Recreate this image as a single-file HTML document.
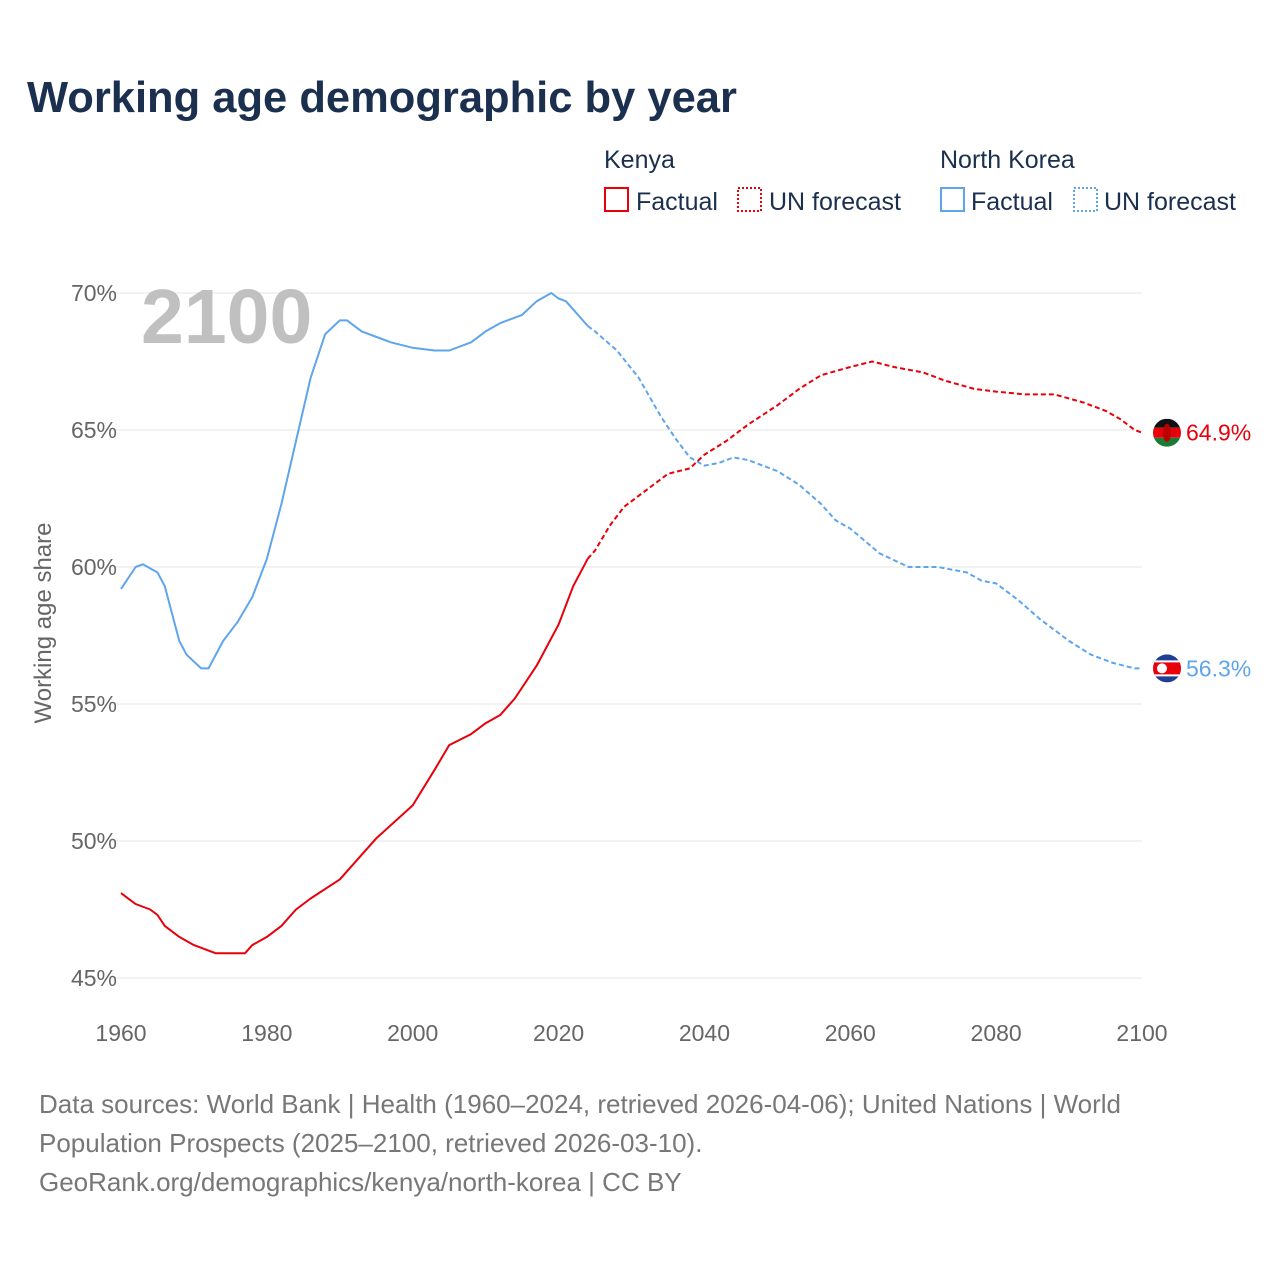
<!DOCTYPE html>
<html><head><meta charset="utf-8"><style>
html,body{margin:0;padding:0;background:#fff;}
body{width:1280px;height:1280px;overflow:hidden;font-family:"Liberation Sans",sans-serif;position:relative;}
</style></head><body>
<svg id="chart" width="1280" height="1280" xmlns="http://www.w3.org/2000/svg" style="position:absolute;left:0;top:0">
<text x="27" y="112" font-size="43.5" font-weight="bold" fill="#1b2f4e">Working age demographic by year</text>
<g font-size="25" fill="#1b2f4e">
<text x="604" y="168">Kenya</text>
<text x="940" y="168">North Korea</text>
<rect x="605" y="188" width="23" height="23" fill="none" stroke="#e8000b" stroke-width="2"/>
<text x="636" y="210">Factual</text>
<rect x="738" y="188" width="23" height="23" fill="none" stroke="#e8000b" stroke-width="2" stroke-dasharray="2,2"/>
<text x="769" y="210">UN forecast</text>
<rect x="941" y="188" width="23" height="23" fill="none" stroke="#5fa5ec" stroke-width="2"/>
<text x="971" y="210">Factual</text>
<rect x="1074" y="188" width="23" height="23" fill="none" stroke="#5fa5ec" stroke-width="2" stroke-dasharray="2,2"/>
<text x="1104" y="210">UN forecast</text>
</g>
<g id="grid"></g>
<text x="141" y="343" font-size="77" font-weight="bold" fill="#c0c0c0">2100</text>
<text transform="translate(51,623) rotate(-90)" text-anchor="middle" font-size="24" fill="#666">Working age share</text>
<g id="series"></g>
<g font-size="26" fill="#777">
<text x="39" y="1113">Data sources: World Bank | Health (1960–2024, retrieved 2026-04-06); United Nations | World</text>
<text x="39" y="1152">Population Prospects (2025–2100, retrieved 2026-03-10).</text>
<text x="39" y="1191">GeoRank.org/demographics/kenya/north-korea | CC BY</text>
</g>
</svg>
<script>
const yTicks=[45,50,55,60,65,70];
const xTicks=[1960,1980,2000,2020,2040,2060,2080,2100];
const kenyaYears=[1960,1962,1964,1965,1966,1968,1970,1973,1977,1978,1980,1982,1984,1986,1990,1995,2000,2003,2005,2008,2010,2012,2014,2017,2020,2022,2024];
const kenyaVals=[48.1,47.7,47.5,47.3,46.9,46.5,46.2,45.9,45.9,46.2,46.5,46.9,47.5,47.9,48.6,50.1,51.3,52.6,53.5,53.9,54.3,54.6,55.2,56.4,57.9,59.3,60.3];
const kenyaFcYears=[2024,2025,2027,2029,2032,2035,2038,2040,2043,2046,2050,2053,2056,2060,2063,2066,2070,2073,2077,2080,2084,2088,2092,2095,2097,2099,2100];
const kenyaFcVals=[60.3,60.6,61.5,62.2,62.8,63.4,63.6,64.1,64.6,65.2,65.9,66.5,67.0,67.3,67.5,67.3,67.1,66.8,66.5,66.4,66.3,66.3,66.0,65.7,65.4,65.0,64.9];
const nkYears=[1960,1962,1963,1965,1966,1968,1969,1971,1972,1974,1976,1978,1980,1982,1984,1986,1988,1990,1991,1993,1997,2000,2003,2005,2008,2010,2012,2015,2017,2019,2020,2021,2022,2024];
const nkVals=[59.2,60.0,60.1,59.8,59.3,57.3,56.8,56.3,56.3,57.3,58.0,58.9,60.3,62.3,64.6,66.9,68.5,69.0,69.0,68.6,68.2,68.0,67.9,67.9,68.2,68.6,68.9,69.2,69.7,70.0,69.8,69.7,69.4,68.8];
const nkFcYears=[2024,2025,2028,2031,2034,2036,2038,2040,2042,2044,2046,2050,2053,2056,2058,2060,2064,2068,2072,2076,2078,2080,2083,2086,2090,2093,2096,2099,2100];
const nkFcVals=[68.8,68.6,67.9,66.9,65.5,64.7,64.0,63.7,63.8,64.0,63.9,63.5,63.0,62.3,61.7,61.4,60.5,60.0,60.0,59.8,59.5,59.4,58.8,58.1,57.3,56.8,56.5,56.3,56.3];
const NS="http://www.w3.org/2000/svg";
const X=y=>121+(y-1960)*(1142-121)/140;
const Y=v=>293+(70-v)*(978-293)/25;
function mk(tag,attrs,parent){const e=document.createElementNS(NS,tag);for(const k in attrs)e.setAttribute(k,attrs[k]);parent.appendChild(e);return e;}
const grid=document.getElementById('grid');
yTicks.forEach(t=>{
 const l=mk('line',{x1:110,x2:1142,y1:Y(t),y2:Y(t),stroke:'#e6e6e6','stroke-width':1},grid);
 
 
 const tx=mk('text',{x:117,y:Y(t)+8,'text-anchor':'end','font-size':23,fill:'#666'},grid);
 tx.textContent=t+'%';
 
 
});
xTicks.forEach(t=>{
 const tx=mk('text',{x:X(t),y:1041,'text-anchor':'middle','font-size':23,fill:'#666'},grid);
 tx.textContent=t;
 
 
});
const ser=document.getElementById('series');
function line(ys,vs,color,dash,name){
 const p=mk('path',{d:ys.map((y,i)=>(i?'L':'M')+X(y).toFixed(1)+','+Y(vs[i]).toFixed(1)).join(''),fill:'none',stroke:color,'stroke-width':2,'stroke-linejoin':'round'},ser);
 if(dash)p.setAttribute('stroke-dasharray',dash);
 
 
}
line(nkYears,nkVals,'#5fa5ec',null,'nk-factual-line');
line(nkFcYears,nkFcVals,'#5fa5ec','5,3','nk-forecast-line');
line(kenyaYears,kenyaVals,'#e8000b',null,'kenya-factual-line');
line(kenyaFcYears,kenyaFcVals,'#e8000b','5,3','kenya-forecast-line');
function endLabel(v,color,name,flag){
 const cy=Y(v),cx=1167;
 const g=mk('g',{},ser);
 
 
 const cp=mk('clipPath',{id:'cp'+name},g);
 mk('circle',{cx:cx,cy:cy,r:14},cp);
 const f=mk('g',{'clip-path':'url(#cp'+name+')'},g);
 if(flag==='ke'){
  mk('rect',{x:cx-14,y:cy-14,width:28,height:9,fill:'#111'},f);
  mk('rect',{x:cx-14,y:cy-5,width:28,height:10,fill:'#e8000b'},f);
  mk('rect',{x:cx-14,y:cy+5,width:28,height:9,fill:'#1c7a35'},f);
  mk('ellipse',{cx:cx,cy:cy,rx:4,ry:9,fill:'#b00'},f);
 }else{
  mk('rect',{x:cx-14,y:cy-14,width:28,height:28,fill:'#1f3f94'},f);
  mk('rect',{x:cx-14,y:cy-8,width:28,height:16,fill:'#fff'},f);
  mk('rect',{x:cx-14,y:cy-6,width:28,height:12,fill:'#e8000b'},f);
  mk('circle',{cx:cx-5,cy:cy,r:5,fill:'#fff'},f);
 }
 const t=mk('text',{x:1186,y:cy+8,'font-size':23,fill:color},ser);
 t.textContent=v.toFixed(1)+'%';
 
 
}
endLabel(kenyaFcVals[kenyaFcVals.length-1],'#e8000b','kenya','ke');
endLabel(nkFcVals[nkFcVals.length-1],'#5fa5ec','nk','kp');
</script>
</body></html>
